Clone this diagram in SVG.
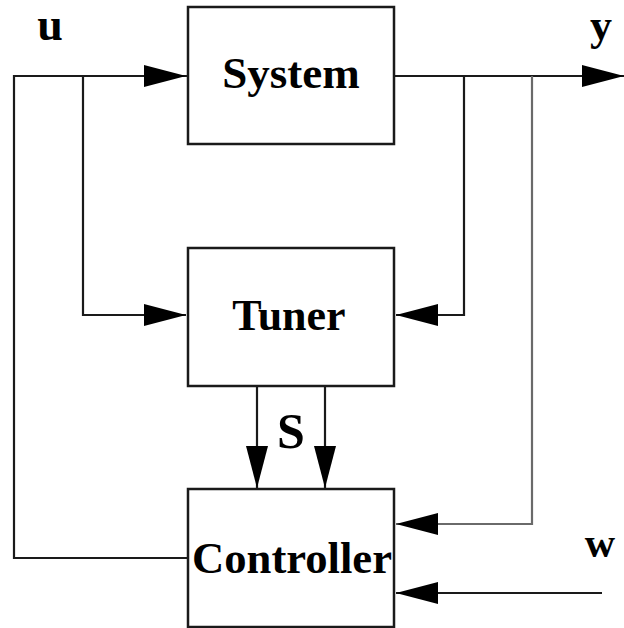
<svg xmlns="http://www.w3.org/2000/svg" width="624" height="628" viewBox="0 0 624 628">
<defs>
<marker id="ah" markerUnits="userSpaceOnUse" markerWidth="44" markerHeight="24" refX="42" refY="11" orient="auto">
<path d="M0,0 L42,11 L0,22 Z" fill="#000"/>
</marker>
<style>
.box{fill:#fff;stroke:#1a1a1a;stroke-width:2.5}
.ln{fill:none;stroke:#1a1a1a;stroke-width:2.2}
.gr{fill:none;stroke:#6a6a6a;stroke-width:2.2}
.lbl{font-family:"Liberation Serif",serif;font-weight:bold;fill:#000}
</style>
</defs>
<rect width="624" height="628" fill="#fff"/>
<g id="connectors">
<path class="ln" d="M188,76 H14 V558 H188"/>
<path class="ln" d="M14,76 H186" marker-end="url(#ah)"/>
<path class="ln" d="M83,76 V315 H186" marker-end="url(#ah)"/>
<path class="ln" d="M394,76 H624" marker-end="url(#ah)"/>
<path class="ln" d="M464,76 V315 H396" marker-end="url(#ah)"/>
<path class="gr" d="M532,76 V524 H396" marker-end="url(#ah)"/>
<path class="ln" d="M602,593 H396" marker-end="url(#ah)"/>
<path class="ln" d="M257,386 V488" marker-end="url(#ah)"/>
<path class="ln" d="M325,386 V488" marker-end="url(#ah)"/>
</g>
<g id="system">
<rect class="box" x="188" y="7" width="206" height="137"/>
<text class="lbl" x="291" y="88" font-size="45" text-anchor="middle">System</text>
</g>
<g id="tuner">
<rect class="box" x="188" y="248" width="206" height="138"/>
<text class="lbl" x="289" y="330" font-size="44" text-anchor="middle">Tuner</text>
</g>
<g id="controller">
<rect class="box" x="188" y="489" width="206" height="138"/>
<text class="lbl" x="292" y="573" font-size="44" text-anchor="middle" textLength="200" lengthAdjust="spacingAndGlyphs">Controller</text>
</g>
<g id="labels">
<text class="lbl" x="50" y="40" font-size="46" text-anchor="middle">u</text>
<text class="lbl" x="601" y="40" font-size="44" text-anchor="middle">y</text>
<text class="lbl" x="600" y="557" font-size="42" text-anchor="middle">w</text>
<text class="lbl" x="291" y="448" font-size="50" text-anchor="middle">S</text>
</g>
</svg>
